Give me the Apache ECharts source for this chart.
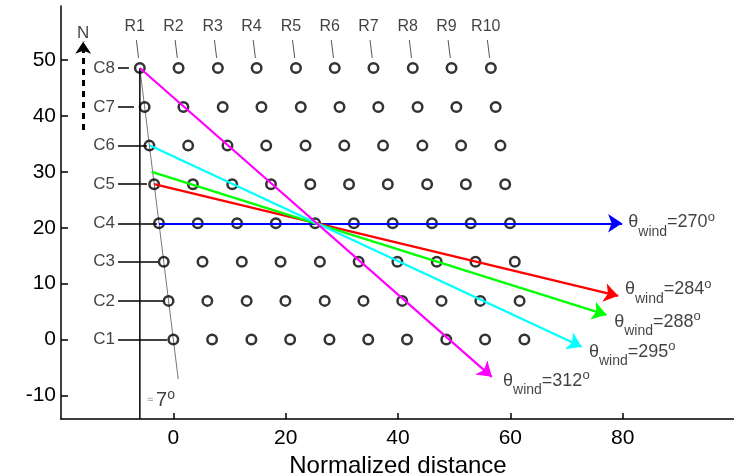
<!DOCTYPE html>
<html>
<head>
<meta charset="utf-8">
<script src="https://cdn.jsdelivr.net/npm/echarts@6/dist/echarts.min.js"></script>
<style>
  html, body { margin: 0; padding: 0; background: #fff; }
  #chart { width: 734px; height: 475px; }
</style>
</head>
<body>
<div id="chart"></div>
<script>
// Sensor array layout: rows C1..C8 (north offsets) and columns R1..R10 (offsets along a row)
const rowNames = ['C1', 'C2', 'C3', 'C4', 'C5', 'C6', 'C7', 'C8'];
const rowY = [0, 6.9, 13.9, 20.8, 27.8, 34.7, 41.6, 48.6];
const colNames = ['R1', 'R2', 'R3', 'R4', 'R5', 'R6', 'R7', 'R8', 'R9', 'R10'];
const colX = [0, 6.9, 13.9, 20.8, 27.8, 34.7, 41.6, 48.6, 55.5, 62.5];
const arrayTiltDeg = 7;            // columns lean about 7 degrees off north

// Row label leader lines (x where each line starts / stops)
const rowTickStart = -9.85;
const rowTickEnd = [-1.1, -1.8, -2.7, -2.9, -4.7, -4.7, -7.0, -7.9];

// Wind directions drawn across the array
const windAngles = [270, 284, 288, 295, 312];
const windColors = ['#0000ff', '#ff0000', '#00ff00', '#00ffff', '#ff00ff'];
const windStart = [[-2.55, 20.8], [-3.41, 27.8], [-3.85, 30.0], [-4.15, 34.7], [-5.97, 48.6]];
const windEnd = [[79.9, 20.8], [79.2, 7.8], [77.1, 4.4], [72.7, -1.3], [56.7, -6.7]];
const windLabelAt = [[81.0, 20.95], [80.4, 8.97], [78.5, 3.17], [74.0, -2.2], [58.7, -7.4]];

// Axis ticks
const xTicks = [0, 20, 40, 60, 80];
const yTicks = [-10, 0, 10, 20, 30, 40, 50];

const FONT = '"Liberation Sans", Arial, Helvetica, sans-serif';
const lean = Math.tan(arrayTiltDeg * Math.PI / 180);
const shiftX = (x, y) => x - y * lean;

// sensor positions
const sensors = [];
rowY.forEach(y => colX.forEach(x => sensors.push([shiftX(x, y), y])));

// column reference marks above the top row
const colTicks = colX.map(x => ({ coords: [[shiftX(x, 50.4), 50.4], [shiftX(x, 53.6), 53.6]] }));
const colLabels = colX.map((x, j) => [shiftX(x, 56), 56, colNames[j]]);
const rowLabels = rowY.map((y, i) => [-10.4, y, rowNames[i]]);
const rowTicks = rowY.map((y, i) => ({ coords: [[rowTickStart, y], [rowTickEnd[i], y]] }));

const windSeries = windAngles.map((a, k) => ({
  type: 'lines',
  coordinateSystem: 'cartesian2d',
  silent: true,
  z: 5,
  symbol: ['none', 'arrow'],
  symbolSize: [10, 14],
  lineStyle: { color: windColors[k], width: 2.2, opacity: 1, curveness: 0 },
  data: [{ coords: [windStart[k], windEnd[k]] }]
}));

const windLabels = windAngles.map((a, k) => [windLabelAt[k][0], windLabelAt[k][1], String(a)]);

const chart = echarts.init(document.getElementById('chart'), null, { renderer: 'canvas' });
chart.setOption({
  animation: false,
  backgroundColor: '#fff',
  textStyle: { fontFamily: FONT },
  grid: { left: 61, top: 6, width: 674, height: 413, containLabel: false, outerBoundsMode: 'none' },
  xAxis: {
    type: 'value', min: -20, max: 100, interval: 20,
    name: 'Normalized distance', nameLocation: 'middle', nameGap: 29,
    nameTextStyle: { fontSize: 24, color: '#000', fontFamily: FONT },
    axisLine: { show: true, onZero: false, lineStyle: { color: '#000', width: 1.5 } },
    axisTick: { show: true, inside: true, length: 6, customValues: xTicks, lineStyle: { color: '#000', width: 1.5 } },
    axisLabel: { customValues: xTicks, fontSize: 21, color: '#000', margin: 9, fontFamily: FONT },
    splitLine: { show: false }
  },
  yAxis: {
    type: 'value', min: -14.25, max: 59.7,
    axisLine: { show: true, onZero: false, lineStyle: { color: '#000', width: 1.5 } },
    axisTick: { show: true, inside: true, length: 7, customValues: yTicks, lineStyle: { color: '#000', width: 1.5 } },
    axisLabel: { customValues: yTicks, fontSize: 21, color: '#000', margin: 5, fontFamily: FONT },
    splitLine: { show: false }
  },
  series: [
    // leaning reference line through the R1 column
    {
      type: 'line', silent: true, symbol: 'none', z: 2,
      lineStyle: { color: '#777', width: 1 },
      data: [[shiftX(0, -7.1), -7.1], [shiftX(0, 48.6), 48.6]]
    },
    // short column marks under the R labels
    {
      type: 'lines', coordinateSystem: 'cartesian2d', silent: true, z: 2,
      lineStyle: { color: '#555', width: 1, opacity: 1 },
      data: colTicks
    },
    // vertical reference line
    {
      type: 'line', silent: true, symbol: 'none', z: 2,
      lineStyle: { color: '#000', width: 1.5 },
      data: [[-5.96, -14.25], [-5.96, 48.6]]
    },
    // row leader lines
    {
      type: 'lines', coordinateSystem: 'cartesian2d', silent: true, z: 2,
      lineStyle: { color: '#000', width: 1.5, opacity: 1 },
      data: rowTicks
    },
    // sensors
    {
      type: 'scatter', silent: true, z: 3,
      symbol: 'circle', symbolSize: 9.5,
      itemStyle: { color: 'rgba(0,0,0,0)', borderColor: '#000', borderWidth: 2.5 },
      data: sensors
    },
    ...windSeries,
    // north arrow
    {
      type: 'lines', coordinateSystem: 'cartesian2d', silent: true, z: 4,
      symbol: ['none', 'arrow'], symbolSize: [10, 12],
      lineStyle: { color: '#000', width: 3, type: [6, 5], opacity: 1 },
      data: [{ coords: [[-16.05, 37.5], [-16.05, 53.3]] }]
    },
    // text: row labels
    {
      type: 'scatter', silent: true, symbolSize: 0, z: 6,
      label: { show: true, position: 'inside', align: 'right', verticalAlign: 'middle',
               formatter: p => p.value[2], fontSize: 17, color: '#111', fontFamily: FONT },
      data: rowLabels
    },
    // text: column labels
    {
      type: 'scatter', silent: true, symbolSize: 0, z: 6,
      label: { show: true, position: 'inside', align: 'center', verticalAlign: 'middle',
               formatter: p => p.value[2], fontSize: 16, color: '#111', fontFamily: FONT },
      data: colLabels
    },
    // text: north marker and tilt note
    {
      type: 'scatter', silent: true, symbolSize: 0, z: 6,
      label: {
        show: true, position: 'inside', align: 'left', verticalAlign: 'middle',
        formatter: p => p.value[2], fontFamily: FONT, color: '#111', fontSize: 17,
        rich: {
          g: { fontSize: 11, color: '#888', fontFamily: FONT },
          n: { fontSize: 20, color: '#111', fontFamily: FONT },
          d: { fontSize: 14, color: '#111', padding: [0, 0, 11, 0], fontFamily: FONT }
        }
      },
      data: [
        { value: [-16.05, 54.8, 'N'], label: { align: 'center' } },
        { value: [-4.7, -10.9, '{g|≈ }{n|7}{d|o}'] }
      ]
    },
    // text: wind direction labels
    {
      type: 'scatter', silent: true, symbolSize: 0, z: 6,
      label: {
        show: true, position: 'inside', align: 'left', verticalAlign: 'middle',
        formatter: p => '{t|θ}{s|wind}{v|=' + p.value[2] + '}{o|o}',
        rich: {
          t: { fontSize: 18, color: '#111', fontFamily: FONT },
          s: { fontSize: 14, color: '#111', padding: [19, 0, 0, 0], fontFamily: FONT },
          v: { fontSize: 18, color: '#111', fontFamily: FONT },
          o: { fontSize: 13, color: '#111', padding: [0, 0, 10, 0], fontFamily: FONT }
        }
      },
      data: windLabels
    }
  ]
});
</script>
</body>
</html>
